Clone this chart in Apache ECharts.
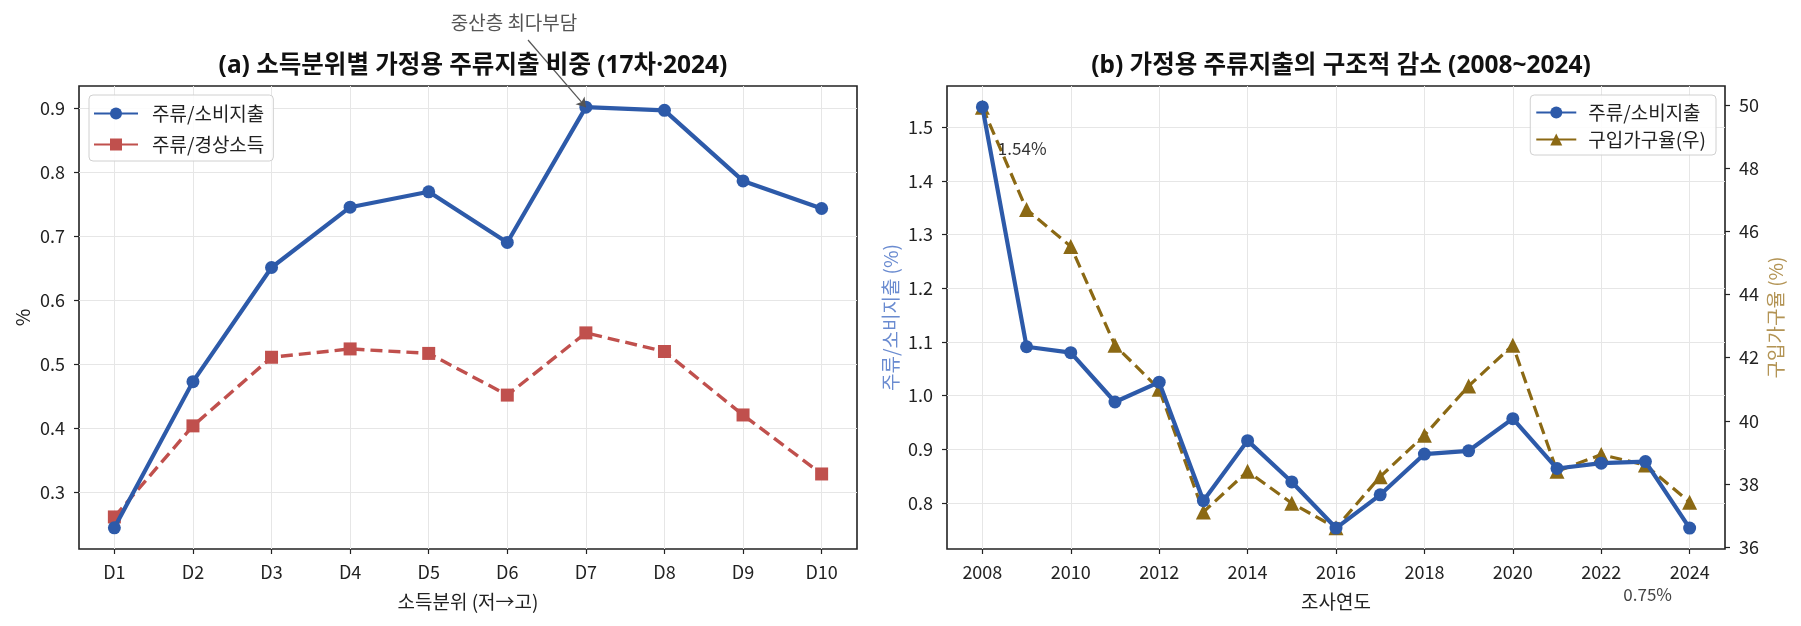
<!DOCTYPE html>
<html>
<head>
<meta charset="utf-8">
<script src="https://cdn.jsdelivr.net/npm/echarts@6/dist/echarts.min.js"></script>
<style>
html, body { margin: 0; padding: 0; background: #fff; }
#chart { width: 1801px; height: 626px; }
</style>
</head>
<body>
<div id="chart"></div>
<script>
// (a) 소득분위별
const deciles = ['D1', 'D2', 'D3', 'D4', 'D5', 'D6', 'D7', 'D8', 'D9', 'D10'];
const shareConsume = [0.245, 0.473, 0.651, 0.745, 0.769, 0.690, 0.901, 0.896, 0.786, 0.743];
const shareIncome = [0.262, 0.404, 0.511, 0.524, 0.517, 0.452, 0.549, 0.520, 0.421, 0.329];
const yTicksA = [0.3, 0.4, 0.5, 0.6, 0.7, 0.8, 0.9];

// (b) 연도별
const years = [2008, 2009, 2010, 2011, 2012, 2013, 2014, 2015, 2016, 2017, 2018, 2019, 2020, 2021, 2022, 2023, 2024];
const yearShare = [1.538, 1.091, 1.080, 0.988, 1.025, 0.804, 0.916, 0.839, 0.753, 0.815, 0.891, 0.897, 0.957, 0.864, 0.874, 0.877, 0.753];
const buyRate = [49.93, 46.69, 45.52, 42.39, 41.0, 37.11, 38.40, 37.39, 36.61, 38.23, 39.54, 41.10, 42.39, 38.40, 38.93, 38.60, 37.42];
const xTicksB = [2008, 2010, 2012, 2014, 2016, 2018, 2020, 2022, 2024];
const yTicksB = [0.8, 0.9, 1.0, 1.1, 1.2, 1.3, 1.4, 1.5];
const yTicksB2 = [36, 38, 40, 42, 44, 46, 48, 50];

const FONT = 'Noto Sans CJK KR';
const TITLE_FONT = '"Noto Sans", "Noto Sans CJK KR"';
const BLUE = '#2d5aa9';
const RED = '#c0504d';
const BROWN = '#8b6914';
const GRIDLINE = '#e6e6e6';
const FRAME = '#222';

// 분위 위치: D1 -> 1 ... D10 -> 10
const decilePos = deciles.map((d, i) => i + 1);

function valAxis(extra) {
  return Object.assign({
    type: 'value',
    scale: true,
    axisLine: { show: false, onZero: false },
    axisTick: { show: true, length: 5, inside: false, lineStyle: { color: FRAME, width: 1.2 } },
    axisLabel: { color: '#222', fontSize: 18, fontFamily: FONT, margin: 14 },
    splitLine: { show: true, lineStyle: { color: GRIDLINE, width: 1 } },
    nameLocation: 'middle',
    nameTextStyle: { fontFamily: FONT, fontSize: 19, color: '#222' }
  }, extra);
}

function ticks(vals) {
  return { show: true, length: 5, customValues: vals, lineStyle: { color: FRAME, width: 1.2 } };
}

function labels(vals, fmt, margin) {
  return { color: '#222', fontSize: 18, fontFamily: FONT, margin: margin, customValues: vals, formatter: fmt };
}

const legendBase = {
  orient: 'vertical', top: 95,
  itemHeight: 15,
  lineStyle: { type: 'solid' },
  borderColor: '#d0d0d0', borderWidth: 1, borderRadius: 4,
  backgroundColor: 'rgba(255,255,255,0.85)'
};

let myChart;
const option = {
  animation: false,
  backgroundColor: '#fff',
  textStyle: { fontFamily: FONT },
  title: [
    {
      text: '(a) 소득분위별 가정용 주류지출 비중 (17차·2024)',
      left: 468, top: 49, textAlign: 'center',
      textStyle: { fontFamily: TITLE_FONT, fontSize: 24.5, fontWeight: 'bold', color: '#111' }
    },
    {
      text: '(b) 가정용 주류지출의 구조적 감소 (2008~2024)',
      left: 1336, top: 49, textAlign: 'center',
      textStyle: { fontFamily: TITLE_FONT, fontSize: 24.5, fontWeight: 'bold', color: '#111' }
    }
  ],
  graphic: [
    {
      type: 'text', x: 514, y: 23,
      style: { text: '중산층 최다부담', fill: '#555', font: '19px "Noto Sans CJK KR"', textAlign: 'center', textVerticalAlign: 'middle' }
    }
  ],
  legend: [
    Object.assign({}, legendBase, {
      left: 89,
      data: ['주류/소비지출', '주류/경상소득'],
      itemWidth: 44, itemGap: 10,
      padding: [8, 9, 6, 4],
      textStyle: { fontFamily: FONT, fontSize: 19, color: '#222', lineHeight: 21, padding: [0, 0, 0, 9] }
    }),
    Object.assign({}, legendBase, {
      right: 85,
      data: ['주류/소비지출', '구입가구율(우)'],
      itemWidth: 40, itemGap: 6,
      padding: [7, 10, 5, 5],
      textStyle: { fontFamily: FONT, fontSize: 19, color: '#222', lineHeight: 21, padding: [0, 0, 0, 7] }
    })
  ],
  grid: [
    { left: 79, right: 944, top: 86, bottom: 77, show: true, borderColor: FRAME, borderWidth: 1.6, backgroundColor: 'transparent' },
    { left: 947, right: 76, top: 86, bottom: 77, show: true, borderColor: FRAME, borderWidth: 1.6, backgroundColor: 'transparent' }
  ],
  xAxis: [
    valAxis({
      gridIndex: 0, min: 0.55, max: 10.45,
      name: '소득분위 (저→고)', nameGap: 43,
      axisTick: ticks(decilePos),
      axisLabel: labels(decilePos, v => deciles[Math.round(v) - 1], 14)
    }),
    valAxis({
      gridIndex: 1, min: 2007.2, max: 2024.8,
      name: '조사연도', nameGap: 43,
      axisTick: ticks(xTicksB),
      axisLabel: labels(xTicksB, v => String(v), 14)
    })
  ],
  yAxis: [
    valAxis({
      gridIndex: 0, position: 'left', min: 0.212, max: 0.934,
      name: '%', nameGap: 47, nameRotate: 90,
      axisTick: ticks(yTicksA),
      axisLabel: labels(yTicksA, v => v.toFixed(1), 14)
    }),
    valAxis({
      gridIndex: 1, position: 'left', min: 0.714, max: 1.577,
      name: '주류/소비지출 (%)', nameGap: 47, nameRotate: 90,
      nameTextStyle: { fontFamily: FONT, fontSize: 19, color: '#6a8bd0' },
      axisTick: ticks(yTicksB),
      axisLabel: labels(yTicksB, v => v.toFixed(1), 14)
    }),
    valAxis({
      gridIndex: 1, position: 'right', min: 35.94, max: 50.6,
      name: '구입가구율 (%)', nameGap: 41, nameRotate: 90,
      nameTextStyle: { fontFamily: FONT, fontSize: 19, color: '#b39455' },
      splitLine: { show: false },
      axisTick: ticks(yTicksB2),
      axisLabel: labels(yTicksB2, v => String(v), 14)
    })
  ],
  series: [
    {
      name: '주류/소비지출', type: 'line', xAxisIndex: 0, yAxisIndex: 0,
      data: shareConsume.map((v, i) => [decilePos[i], v]),
      symbol: 'circle', symbolSize: 13, z: 3,
      lineStyle: { color: BLUE, width: 4.2 }, itemStyle: { color: BLUE },
      markLine: {
        silent: true, symbol: ['none', 'arrow'], symbolSize: 9,
        label: { show: false },
        lineStyle: { color: '#555', width: 1.2, type: 'solid' },
        data: [[{ x: 528, y: 40 }, { coord: [decilePos[6], shareConsume[6]] }]]
      }
    },
    {
      name: '주류/경상소득', type: 'line', xAxisIndex: 0, yAxisIndex: 0,
      data: shareIncome.map((v, i) => [decilePos[i], v]),
      symbol: 'rect', symbolSize: 13, z: 2,
      lineStyle: { color: RED, width: 3.4, type: [12, 6] }, itemStyle: { color: RED }
    },
    {
      name: '주류/소비지출', type: 'line', xAxisIndex: 1, yAxisIndex: 1,
      data: years.map((y, i) => [y, yearShare[i]]),
      symbol: 'circle', symbolSize: 13, z: 3,
      lineStyle: { color: BLUE, width: 4.2 }, itemStyle: { color: BLUE },
      markPoint: {
        symbol: 'circle', symbolSize: 1, silent: true,
        itemStyle: { color: 'transparent' },
        data: [
          { coord: [years[0], yearShare[0]], label: { show: true, formatter: '1.54%', position: 'right', distance: 0, offset: [15, 42], fontSize: 17, color: '#333', fontFamily: FONT } },
          { coord: [years[16], yearShare[16]], label: { show: true, formatter: '0.75%', position: 'inside', offset: [-42, 66], fontSize: 17, color: '#444', fontFamily: FONT } }
        ]
      }
    },
    {
      name: '구입가구율(우)', type: 'line', xAxisIndex: 1, yAxisIndex: 2,
      data: years.map((y, i) => [y, buyRate[i]]),
      symbol: 'triangle', symbolSize: 15, z: 2,
      lineStyle: { color: BROWN, width: 3.2, type: [12, 6] }, itemStyle: { color: BROWN }
    }
  ]
};

myChart = echarts.init(document.getElementById('chart'));
myChart.setOption(option);
</script>
</body>
</html>
